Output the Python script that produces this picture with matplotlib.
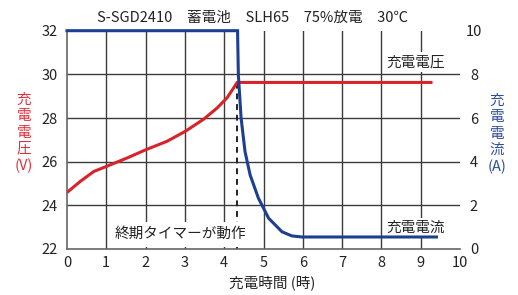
import matplotlib
matplotlib.use("Agg")
import matplotlib.pyplot as plt

plt.rcParams["font.family"] = ["Noto Sans CJK JP", "DejaVu Sans"]

# charge voltage (V) vs time (h)
volt_time = [0.0, 0.34, 0.68, 1.0, 1.53, 2.01, 2.54, 3.01, 3.48, 3.82, 4.07, 4.24, 4.33, 9.3]
volt_vals = [24.59, 25.10, 25.55, 25.78, 26.17, 26.55, 26.93, 27.39, 27.95, 28.46, 28.92, 29.38, 29.63, 29.63]

# charge current (A) vs time (h)
curr_time = [0.0, 4.34, 4.36, 4.43, 4.53, 4.66, 4.87, 5.13, 5.47, 5.72, 5.98, 9.4]
curr_vals = [10.0, 10.0, 7.98, 6.0, 4.46, 3.39, 2.33, 1.41, 0.79, 0.6, 0.55, 0.55]

timer_x = 4.32
x_ticks = list(range(0, 11))
v_ticks = [22, 24, 26, 28, 30, 32]
a_ticks = [0, 2, 4, 6, 8, 10]

title = "S-SGD2410\u3000蓄電池\u3000SLH65\u300075%放電\u300030℃"

RED = "#d9232b"
BLUE = "#1c3f94"
GRID = "#3c3c3c"

fig = plt.figure(figsize=(5.18, 2.95), dpi=100)
ax = fig.add_axes([67 / 518, 46 / 295, 393 / 518, 218.3 / 295])
ax.set_xlim(0, 10)
ax.set_ylim(22, 32)

for x in x_ticks[1:-1]:
    ax.axvline(x, color=GRID, lw=1.0, zorder=1)
for v in v_ticks[1:-1]:
    ax.axhline(v, color=GRID, lw=1.0, zorder=1)

ax.plot([timer_x, timer_x], [22, volt_vals[-1]], color="#222222", lw=1.4,
        ls=(0, (3, 2.5)), zorder=1.5)
ax.plot(volt_time, volt_vals, color=RED, lw=2.2, zorder=3, solid_capstyle="butt")

box = dict(facecolor="white", edgecolor="none", pad=2)
ax.text(2.88, 22.68, "終期タイマーが動作", ha="center", va="center",
        fontsize=10.5, color="#222222", bbox=dict(facecolor="white", edgecolor="none", pad=4), zorder=2)
ax.text(8.87, 30.56, "充電電圧", ha="center", va="center",
        fontsize=10.5, color="#222222", bbox=box, zorder=2)
ax.text(8.87, 22.95, "充電電流", ha="center", va="center",
        fontsize=10.5, color="#222222", bbox=box, zorder=2)

ax.set_xticks(x_ticks)
ax.set_yticks(v_ticks)
ax.tick_params(length=0, labelsize=10.5, colors="#222222")
ax.tick_params(axis="y", pad=6.5)
ax.tick_params(axis="x", pad=5)
for side in ("top", "right"):
    ax.spines[side].set_visible(False)
for side in ("left", "bottom"):
    ax.spines[side].set_color("#666666")
    ax.spines[side].set_linewidth(1.2)

ax2 = ax.twinx()
ax2.set_ylim(0, 10)
ax2.set_yticks(a_ticks)
ax2.plot(curr_time, curr_vals, color=BLUE, lw=2.2, zorder=3,
         solid_joinstyle="miter", clip_on=False)
ax2.tick_params(length=0, labelsize=10.5, colors="#222222", pad=10)
for lbl in ax2.get_yticklabels():
    lbl.set_horizontalalignment("center")
for side in ax2.spines:
    ax2.spines[side].set_visible(False)

fig.text(253 / 518, 1 - 18 / 295, title, ha="center", va="center",
         fontsize=10.5, color="#222222")
fig.text(272 / 518, 1 - 283 / 295, "充電時間 (時)", ha="center", va="center",
         fontsize=10.5, color="#222222")
fig.text(24 / 518, 1 - 133 / 295, "充\n電\n電\n圧\n(V)", ha="center", va="center",
         fontsize=10.5, color="#e0303a", linespacing=1.2)
fig.text(497 / 518, 1 - 134 / 295, "充\n電\n電\n流\n(A)", ha="center", va="center",
         fontsize=10.5, color="#2a4fa0", linespacing=1.2)

fig.savefig("out.png", dpi=100)
